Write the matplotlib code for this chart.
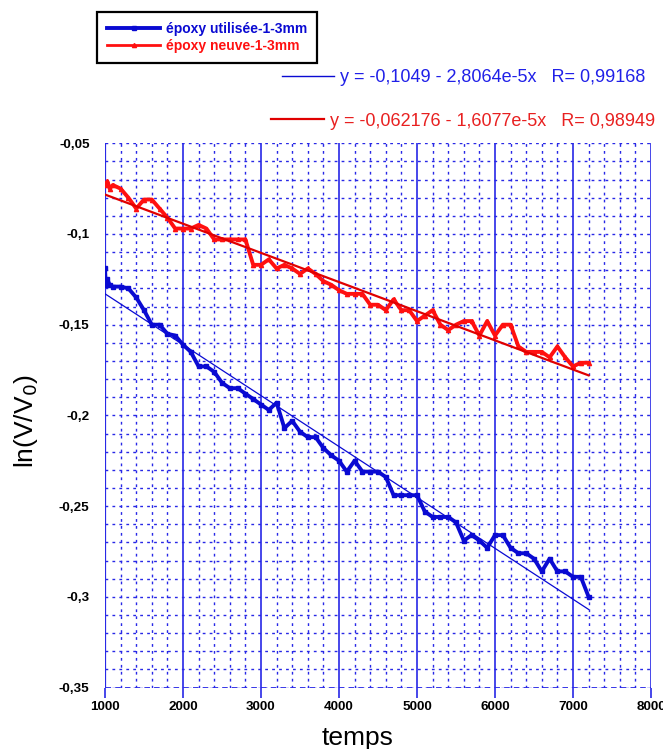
import matplotlib
matplotlib.use("Agg")
import matplotlib.pyplot as plt
from matplotlib.lines import Line2D
from matplotlib.ticker import MultipleLocator, FixedLocator
import numpy as np

plt.rcParams["font.family"] = ["Liberation Sans", "DejaVu Sans"]

# --- data ---
temps_utilisee = [1000, 1010, 1030, 1060, 1100, 1200, 1300, 1400, 1500, 1600, 1700, 1800,
                  1900, 2000, 2100, 2200, 2300, 2400, 2500, 2600, 2700, 2800, 2900, 3000,
                  3100, 3200, 3300, 3400, 3500, 3600, 3700, 3800, 3900, 4000, 4100, 4200,
                  4300, 4400, 4500, 4600, 4700, 4800, 4900, 5000, 5100, 5200, 5300, 5400,
                  5500, 5600, 5700, 5800, 5900, 6000, 6100, 6200, 6300, 6400, 6500, 6600,
                  6700, 6800, 6900, 7000, 7100, 7200]
ln_utilisee = [-0.119, -0.128, -0.125, -0.128, -0.129, -0.129, -0.130, -0.135, -0.142, -0.150,
               -0.150, -0.155, -0.156, -0.161, -0.165, -0.173, -0.173, -0.176, -0.182, -0.185,
               -0.185, -0.188, -0.191, -0.194, -0.197, -0.193, -0.207, -0.203, -0.209, -0.212,
               -0.212, -0.218, -0.222, -0.225, -0.231, -0.225, -0.231, -0.231, -0.231, -0.234,
               -0.244, -0.244, -0.244, -0.244, -0.253, -0.256, -0.256, -0.256, -0.259, -0.269,
               -0.266, -0.269, -0.273, -0.266, -0.266, -0.273, -0.276, -0.276, -0.279, -0.286,
               -0.279, -0.286, -0.286, -0.289, -0.289, -0.300]

temps_neuve = [1000, 1030, 1060, 1100, 1200, 1300, 1400, 1500, 1600, 1700, 1800, 1900,
               2000, 2100, 2200, 2300, 2400, 2500, 2600, 2700, 2800, 2900, 3000, 3100,
               3200, 3300, 3400, 3500, 3600, 3700, 3800, 3900, 4000, 4100, 4200, 4300,
               4400, 4500, 4600, 4700, 4800, 4900, 5000, 5100, 5200, 5300, 5400, 5500,
               5600, 5700, 5800, 5900, 6000, 6100, 6200, 6300, 6400, 6500, 6600, 6700,
               6800, 6900, 7000, 7100, 7200]
ln_neuve = [-0.073, -0.071, -0.075, -0.073, -0.075, -0.080, -0.086, -0.081, -0.081, -0.086,
            -0.091, -0.097, -0.097, -0.097, -0.095, -0.097, -0.103, -0.103, -0.103, -0.103,
            -0.103, -0.117, -0.117, -0.114, -0.119, -0.117, -0.119, -0.122, -0.119, -0.122,
            -0.126, -0.128, -0.131, -0.133, -0.133, -0.133, -0.139, -0.139, -0.142, -0.136,
            -0.142, -0.142, -0.148, -0.145, -0.142, -0.150, -0.153, -0.150, -0.148, -0.148,
            -0.156, -0.148, -0.156, -0.150, -0.150, -0.162, -0.165, -0.165, -0.165, -0.168,
            -0.162, -0.168, -0.173, -0.171, -0.171]

# linear fits printed on the chart: y = a + b*x
fit_utilisee = (-0.1049, -2.8064e-5)
fit_neuve = (-0.062176, -1.6077e-5)
fit_range = [1000, 7200]

x_ticks = [1000, 2000, 3000, 4000, 5000, 6000, 7000, 8000]
y_ticks = [-0.35, -0.3, -0.25, -0.2, -0.15, -0.1, -0.05]
y_ticklabels = ["-0,35", "-0,3", "-0,25", "-0,2", "-0,15", "-0,1", "-0,05"]

BLUE = "#0a0ad2"
GRID = "#2828e6"
RED = "#ff1010"
DRED = "#e00000"

W, H = 663, 749
fig = plt.figure(figsize=(W / 100, H / 100), dpi=100)
ax = fig.add_axes([105 / W, 1 - 687.5 / H, 546 / W, 544.2 / H])

ax.set_xlim(1000, 8000)
ax.set_ylim(-0.35, -0.05)

# grid: solid majors on x, dotted minors, dotted horizontals
ax.xaxis.set_major_locator(FixedLocator(x_ticks))
ax.xaxis.set_minor_locator(MultipleLocator(200))
ax.yaxis.set_major_locator(FixedLocator(y_ticks))
ax.yaxis.set_minor_locator(MultipleLocator(0.01))
ax.grid(which="major", axis="x", color=GRID, lw=1.2, ls="-")
ax.grid(which="minor", axis="x", color=GRID, lw=1.0, ls=(0, (2, 3)))
ax.grid(which="both", axis="y", color=GRID, lw=1.0, ls=(0, (2, 3)))
ax.set_axisbelow(True)
for s in ax.spines.values():
    s.set_visible(False)
ax.axvline(1000, color=GRID, lw=1.6, zorder=1)
ax.axhline(-0.35, color=GRID, lw=2.0, ls=(0, (2, 1.5)), zorder=1)

ax.set_xticklabels([str(v) for v in x_ticks])
ax.set_yticklabels(y_ticklabels)
ax.tick_params(axis="x", which="major", length=7, width=1.2, color=GRID, pad=3,
               labelsize=9.7)
ax.tick_params(axis="x", which="minor", length=0)
ax.tick_params(axis="y", which="both", length=0, pad=11, labelsize=9.7)
for lab in ax.get_xticklabels() + ax.get_yticklabels():
    lab.set_fontweight("bold")

# data
ax.plot(temps_utilisee, ln_utilisee, color=BLUE, lw=2.8, marker="s", ms=3.2,
        label="époxy utilisée-1-3mm", zorder=3)
ax.plot(temps_neuve, ln_neuve, color=RED, lw=2.8, marker="^", ms=3,
        label="époxy neuve-1-3mm", zorder=3)

fx = np.array(fit_range, dtype=float)
ax.plot(fx, fit_utilisee[0] + fit_utilisee[1] * fx, color=BLUE, lw=0.9, zorder=4)
ax.plot(fx, fit_neuve[0] + fit_neuve[1] * fx, color=DRED, lw=1.6, zorder=4)

ax.set_xlabel("temps", fontsize=19)
ax.xaxis.set_label_coords((358 - 105) / 546, -(726 - 687.5) / 544.2)
ax.set_ylabel("ln(V/V$_0$)", fontsize=19)
ax.yaxis.set_label_coords((40 - 105) / 546, 0.489)

# legend box in the top-left corner
leg = ax.legend(loc="upper left", bbox_to_anchor=(97 / W, 1 - 11.7 / H),
                bbox_transform=fig.transFigure, frameon=True, fancybox=False,
                edgecolor="black", framealpha=1, borderpad=0.75, handlelength=3.8,
                handletextpad=0.4, labelspacing=0.2, borderaxespad=0,
                prop={"weight": "bold", "size": 10})
leg.get_frame().set_linewidth(1.6)
for txt, c in zip(leg.get_texts(), [BLUE, RED]):
    txt.set_color(c)
leg.get_lines()[1].set_linewidth(2.0)

# fit equations above the plot
fig.add_artist(Line2D([282 / W, 334 / W], [1 - 75.7 / H] * 2, color=BLUE, lw=1.0))
fig.text(340 / W, 1 - 78 / H, "y = -0,1049 - 2,8064e-5x   R= 0,99168",
         color="#2020e8", fontsize=13, va="center", ha="left")
fig.add_artist(Line2D([271 / W, 324 / W], [1 - 119 / H] * 2, color=DRED, lw=1.6))
fig.text(330 / W, 1 - 121 / H, "y = -0,062176 - 1,6077e-5x   R= 0,98949",
         color="#e82020", fontsize=13, va="center", ha="left")

fig.savefig("out.png", dpi=100)
